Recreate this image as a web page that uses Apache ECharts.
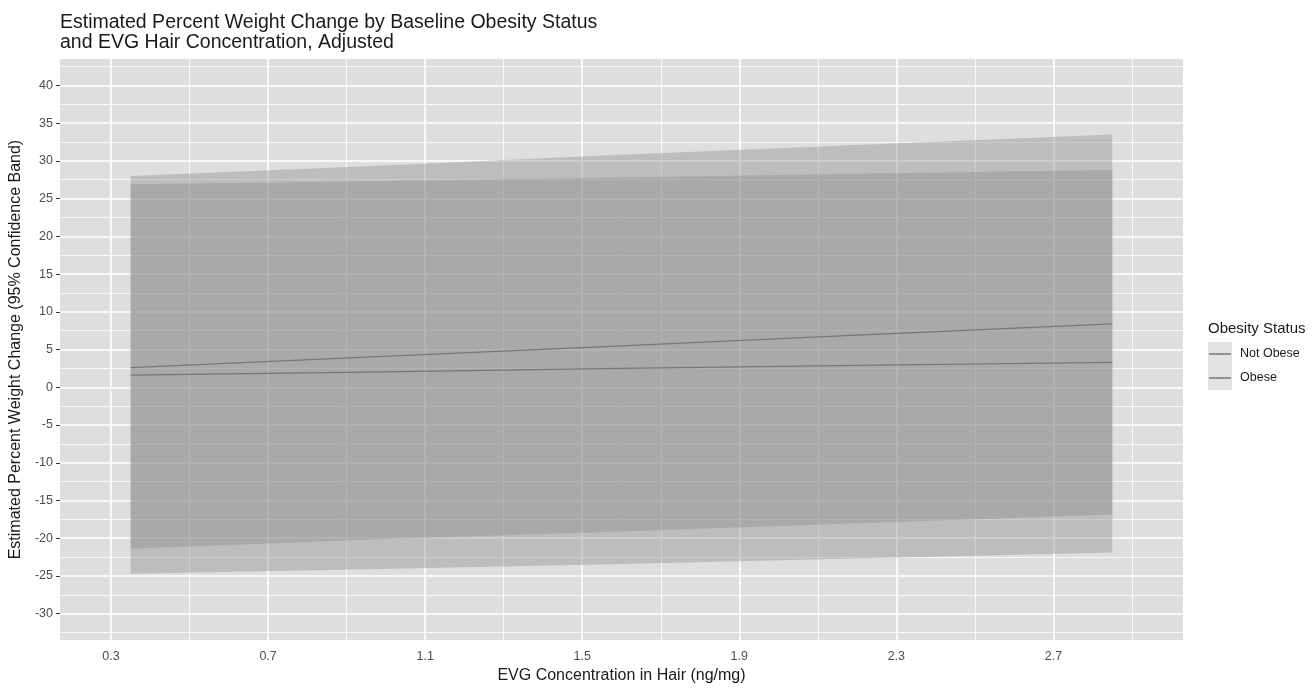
<!DOCTYPE html>
<html>
<head>
<meta charset="utf-8">
<script src="https://cdn.jsdelivr.net/npm/echarts@6/dist/echarts.min.js"></script>
<style>
html,body{margin:0;padding:0;background:#fff;}
#chart{width:1314px;height:689px;}
</style>
</head>
<body>
<div id="chart"></div>
<script>
// ---- data ----
const xVals = [0.35, 0.95, 1.6, 2.2, 2.85];
const notObeseFit   = [1.6, 2.0, 2.5, 2.9, 3.3];
const notObeseLower = [-24.7, -24.1, -23.4, -22.7, -21.9];
const notObeseUpper = [26.9, 27.3, 27.8, 28.3, 28.8];
const obeseFit   = [2.6, 4.0, 5.5, 6.9, 8.4];
const obeseLower = [-21.4, -20.2, -19.1, -18.0, -16.85];
const obeseUpper = [28.0, 29.3, 30.8, 32.1, 33.5];

const xTicks = [0.3, 0.7, 1.1, 1.5, 1.9, 2.3, 2.7];
const xMinor = [0.5, 0.9, 1.3, 1.7, 2.1, 2.5, 2.9];
const yTicks = [-30, -25, -20, -15, -10, -5, 0, 5, 10, 15, 20, 25, 30, 35, 40];
const yMinor = [-32.5, -27.5, -22.5, -17.5, -12.5, -7.5, -2.5, 2.5, 7.5, 12.5, 17.5, 22.5, 27.5, 32.5, 37.5, 42.5];

const seriesNames = ['Not Obese', 'Obese'];
const titleText = 'Estimated Percent Weight Change by Baseline Obesity Status\nand EVG Hair Concentration, Adjusted';
const xName = 'EVG Concentration in Hair (ng/mg)';
const yName = 'Estimated Percent Weight Change (95% Confidence Band)';
const legendTitle = 'Obesity Status';

// ---- styling ----
const FONT = 'Liberation Sans, Arial, sans-serif';
const pair = (xs, ys) => xs.map((x, i) => [x, ys[i]]);

function bandSeries(name, lower, upper) {
  return {
    type: 'custom', name: name + ' band', silent: true, z: 6,
    data: xVals.map((x, i) => [x, lower[i], upper[i]]),
    encode: { x: 0, y: [1, 2] },
    renderItem: function (params, api) {
      if (params.dataIndex !== 0) return null;
      const pts = [];
      for (let i = 0; i < xVals.length; i++) pts.push(api.coord([xVals[i], upper[i]]));
      for (let i = xVals.length - 1; i >= 0; i--) pts.push(api.coord([xVals[i], lower[i]]));
      return { type: 'polygon', shape: { points: pts },
               style: { fill: 'rgba(140,140,140,0.4)', stroke: null } };
    }
  };
}

const gridLines = []
  .concat(xTicks.map(v => ({ xAxis: v, lineStyle: { width: 1.6 } })))
  .concat(xMinor.map(v => ({ xAxis: v, lineStyle: { width: 0.8 } })))
  .concat(yTicks.map(v => ({ yAxis: v, lineStyle: { width: 1.6 } })))
  .concat(yMinor.map(v => ({ yAxis: v, lineStyle: { width: 0.8 } })));

const chart = echarts.init(document.getElementById('chart'));
chart.setOption({
  animation: false,
  backgroundColor: '#ffffff',
  title: [
    { text: titleText, left: 60, top: 12, padding: 0,
      textStyle: { fontFamily: FONT, fontSize: 19.5, fontWeight: 'normal', color: '#1a1a1a', lineHeight: 20.5 } },
    { text: legendTitle, left: 1208, top: 321, padding: 0,
      textStyle: { fontFamily: FONT, fontSize: 15, fontWeight: 'normal', color: '#1a1a1a' } }
  ],
  grid: { left: 59, top: 59, width: 1124, height: 590, show: true,
          backgroundColor: '#dedede', borderWidth: 0 },
  graphic: [
    { type: 'rect', left: 1208, top: 342, shape: { width: 24, height: 48 },
      style: { fill: '#e3e3e3' }, z: -1, silent: true }
  ],
  legend: {
    data: seriesNames.map(n => ({ name: n, icon: 'rect' })),
    orient: 'vertical', left: 1209, top: 347.5, padding: 0,
    itemWidth: 22, itemHeight: 1.5, itemGap: 11,
    textStyle: { fontFamily: FONT, fontSize: 12.5, color: '#1a1a1a', padding: [0, 0, 0, 4] }
  },
  xAxis: {
    type: 'value', min: 0.17, max: 3.03,
    name: xName, nameLocation: 'middle', nameGap: 21,
    nameTextStyle: { fontFamily: FONT, fontSize: 16, color: '#1a1a1a' },
    axisLine: { show: false },
    axisTick: { show: true, customValues: xTicks, length: 4, lineStyle: { color: '#333' } },
    axisLabel: { customValues: xTicks, margin: 10, fontFamily: FONT, fontSize: 12.5, color: '#4d4d4d',
                 formatter: v => v.toFixed(1) },
    splitLine: { show: false }
  },
  yAxis: {
    type: 'value', min: -33.5, max: 43.5,
    name: yName, nameLocation: 'middle', nameGap: 31, nameRotate: 90,
    nameTextStyle: { fontFamily: FONT, fontSize: 16, color: '#1a1a1a' },
    axisLine: { show: false },
    axisTick: { show: true, customValues: yTicks, length: 4, lineStyle: { color: '#333' } },
    axisLabel: { customValues: yTicks, margin: 7, fontFamily: FONT, fontSize: 12.5, color: '#4d4d4d' },
    splitLine: { show: false }
  },
  series: [
    { type: 'line', name: '_grid', data: [[xVals[0], 0]], symbol: 'none', silent: true, z: 1,
      lineStyle: { opacity: 0 },
      markLine: { silent: true, z: 1, symbol: ['none', 'none'], label: { show: false },
                  lineStyle: { color: '#ffffff', type: 'solid' }, data: gridLines, animation: false } },
    bandSeries(seriesNames[0], notObeseLower, notObeseUpper),
    bandSeries(seriesNames[1], obeseLower, obeseUpper),
    { type: 'line', name: seriesNames[0], data: pair(xVals, notObeseFit), symbol: 'none', z: 7,
      color: '#767676', lineStyle: { color: '#767676', width: 1.3 } },
    { type: 'line', name: seriesNames[1], data: pair(xVals, obeseFit), symbol: 'none', z: 7,
      color: '#767676', lineStyle: { color: '#767676', width: 1.3 } }
  ]
});
</script>
</body>
</html>
